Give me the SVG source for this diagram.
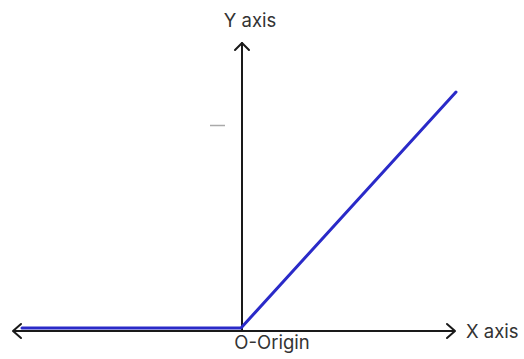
<svg xmlns="http://www.w3.org/2000/svg" width="524" height="359" viewBox="0 0 524 359">
<style>
.axis{stroke:#1a1a1a;stroke-width:2;fill:none;stroke-linecap:round;stroke-linejoin:round}
.lbl{font-family:Inter,Roboto,"Liberation Sans",sans-serif;font-size:18.5px;fill:#333}
.blue{stroke:#2a2ac8;stroke-width:3;fill:none;stroke-linecap:round;stroke-linejoin:round}
</style>
<rect width="524" height="359" fill="#fff"/>
<g id="connectors">
<line class="axis" x1="14" y1="331" x2="454" y2="331"/>
<polyline class="axis" points="21,324 13,331 21,338"/>
<polyline class="axis" points="447,324 455,331 447,338"/>
<line class="axis" x1="242" y1="331" x2="242" y2="43"/>
<polyline class="axis" points="235,50 242,43 249,50"/>
<polyline class="blue" points="22,328 241,328 456,92"/>
<line x1="210" y1="125.5" x2="225" y2="125.5" stroke="#aaa" stroke-width="1.5"/>
</g>
<g id="y-label"><text class="lbl" x="250" y="27" text-anchor="middle">Y axis</text></g>
<g id="x-label"><text class="lbl" x="466" y="338">X axis</text></g>
<g id="origin"><text class="lbl" x="272" y="349" text-anchor="middle">O-Origin</text></g>
</svg>
